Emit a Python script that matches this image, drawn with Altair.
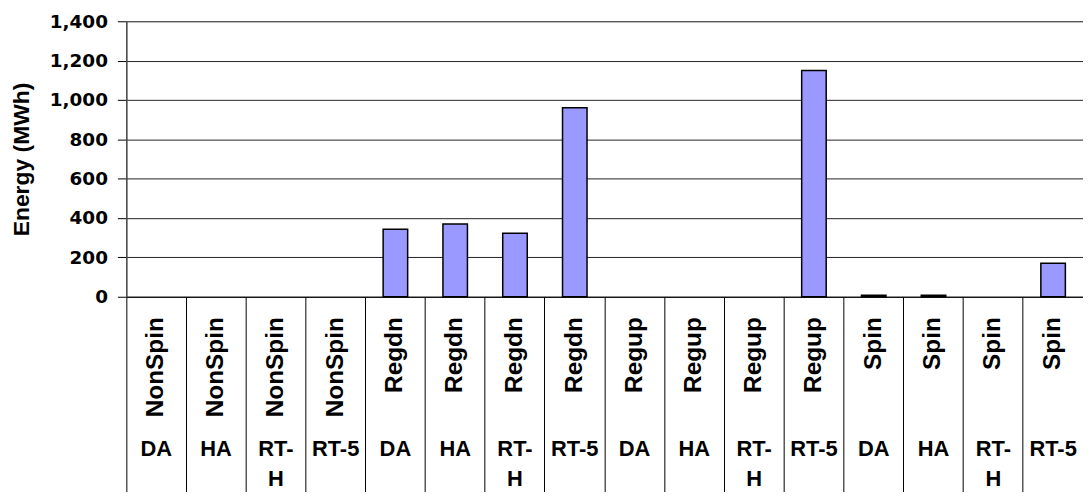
import altair as alt
import pandas as pd

services = ["NonSpin"] * 4 + ["Regdn"] * 4 + ["Regup"] * 4 + ["Spin"] * 4
markets = ["DA", "HA", "RT-H", "RT-5"] * 4
energy = [0, 0, 0, 0, 343, 370, 323, 960, 0, 0, 0, 1150, 8, 8, 0, 170]
y_ticks = [0, 200, 400, 600, 800, 1000, 1200, 1400]

keys = [f"{s}|{m}" for s, m in zip(services, markets)]
df = pd.DataFrame({"key": keys, "service": services, "market": markets, "energy": energy})

FONT = "Liberation Sans"
xscale = alt.Scale(paddingInner=0, paddingOuter=0)
yscale = alt.Scale(domain=[0, 1400], nice=False)

bars = alt.Chart(df).transform_filter("datum.energy > 0").mark_bar(
    width=alt.RelativeBandSize(0.41), fill="#9999FF", stroke="black", strokeWidth=1.5
).encode(
    x=alt.X("key:N", sort=keys, scale=xscale, title=None,
            axis=alt.Axis(orient="bottom", title=None, labelAngle=-90, labelAlign="right",
                          labelBaseline="middle", labelPadding=20, ticks=False, tickSize=0,
                          labelExpr="split(datum.label,'|')[0]", domain=True,
                          domainColor="black", domainWidth=1, labelFont=FONT,
                          labelFontSize=24.5, labelFontWeight="bold", labelColor="black",
                          grid=False)),
    y=alt.Y("energy:Q", scale=yscale,
            axis=alt.Axis(values=y_ticks, format=",d", title="Energy (MWh)",
                          titleFont=FONT, titleFontSize=23, titleFontWeight="bold",
                          titleColor="black", titlePadding=16,
                          labelFont="DejaVu Sans", labelFontSize=18.5, labelFontWeight="bold",
                          labelColor="black", labelPadding=10, tickSize=9, tickColor="black",
                          domainColor="#444444", domainWidth=1.5, grid=True,
                          gridColor="#222222", gridWidth=1)),
)

market_axis = alt.Chart(df).mark_point(opacity=0).encode(
    x=alt.X("key:N", sort=keys, scale=xscale, title=None,
            axis=alt.Axis(orient="bottom", title=None, labelAngle=0, labelAlign="center",
                          labelBaseline="top", labelPadding=143, labelLineHeight=30,
                          ticks=False, tickSize=0, domain=False,
                          labelExpr="split(datum.label,'|')[1] == 'RT-H' ? ['RT-', 'H'] : split(datum.label,'|')[1]",
                          labelFont=FONT, labelFontSize=22, labelFontWeight="bold",
                          labelColor="black", grid=False)),
    y=alt.Y("energy:Q", scale=yscale, axis=None),
)

separators = alt.Chart(df).mark_point(opacity=0).encode(
    x=alt.X("key:N", sort=keys, scale=xscale, title=None,
            axis=alt.Axis(orient="bottom", title=None, labels=False, ticks=True,
                          tickSize=200, tickColor="black", tickWidth=1, bandPosition=0,
                          domain=False, grid=False)),
    y=alt.Y("energy:Q", scale=yscale, axis=None),
)

chart = alt.layer(bars, market_axis, separators).resolve_axis(
    x="independent", y="independent"
).properties(
    width=962, height=277,
    autosize=alt.AutoSizeParams(type="none"),
    padding={"left": 119, "top": 12, "right": 0, "bottom": 195},
).configure_view(stroke=None).configure(background="white")

chart.save("out.html", embed_options={"renderer": "svg", "actions": False})
